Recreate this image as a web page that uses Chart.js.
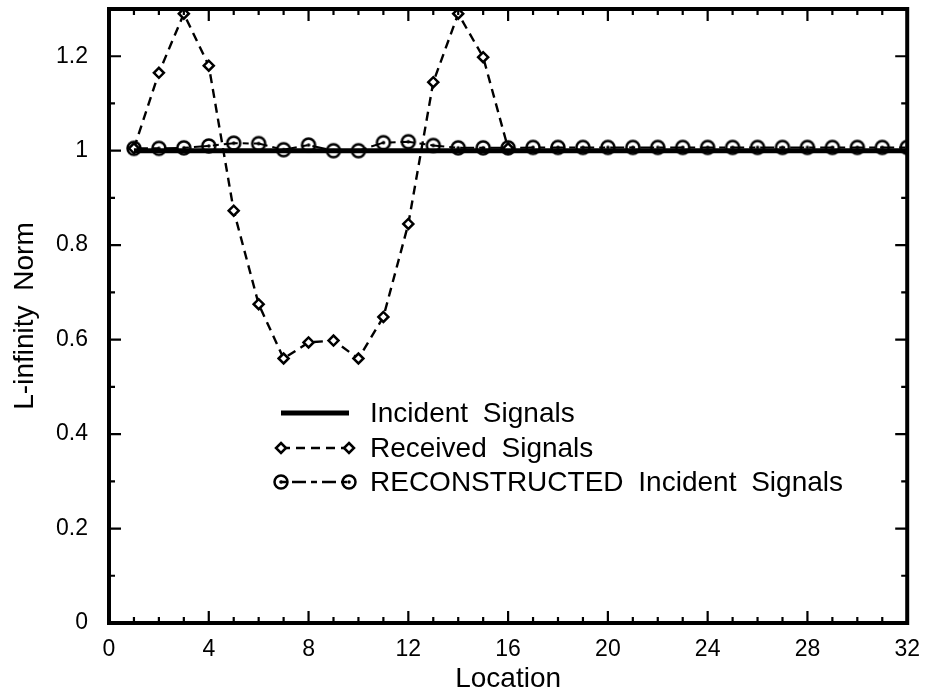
<!DOCTYPE html>
<html>
<head>
<meta charset="utf-8">
<script src="https://cdn.jsdelivr.net/npm/chart.js@4.4.1/dist/chart.umd.min.js"></script>
<style>
  html, body { margin: 0; padding: 0; background: #fff; }
  #wrap { width: 933px; height: 694px; }
</style>
</head>
<body>
<div id="wrap"><canvas id="chart" width="933" height="694"></canvas></div>
<script>
// Data
const locations = [1, 2, 3, 4, 5, 6, 7, 8, 9, 10, 11, 12, 13, 14, 15, 16,
                   17, 18, 19, 20, 21, 22, 23, 24, 25, 26, 27, 28, 29, 30, 31, 32];
const incident = [1, 1, 1, 1, 1, 1, 1, 1, 1, 1, 1, 1, 1, 1, 1, 1,
                  1, 1, 1, 1, 1, 1, 1, 1, 1, 1, 1, 1, 1, 1, 1, 1];
const receivedLocations = [1, 2, 3, 4, 5, 6, 7, 8, 9, 10, 11, 12, 13, 14, 15, 16];
const received = [1.005, 1.165, 1.29, 1.18, 0.873, 0.675, 0.56, 0.594, 0.598, 0.56, 0.648, 0.845, 1.145, 1.29, 1.198, 1.005];
const reconstructed = [1.005, 1.005, 1.006, 1.01, 1.016, 1.015, 1.002, 1.012, 1.0, 1.0, 1.017, 1.019, 1.011, 1.006, 1.006, 1.006,
                       1.007, 1.007, 1.007, 1.007, 1.007, 1.007, 1.007, 1.007, 1.007, 1.007, 1.007, 1.007, 1.007, 1.007, 1.007, 1.007];
const xTicks = [0, 4, 8, 12, 16, 20, 24, 28, 32];
const yTicks = [0, 0.2, 0.4, 0.6, 0.8, 1, 1.2];
const yTickLabels = ['0', '0.2', '0.4', '0.6', '0.8', '1', '1.2'];
const legendLabels = ['Incident Signals', 'Received Signals', 'RECONSTRUCTED Incident Signals'];

const FONT = "'Liberation Sans', Arial, Helvetica, sans-serif";

// circle with a dot in the middle, used as point style
function drawCircleMarker(g, x, y) {
    g.save();
    g.setLineDash([]);
    g.lineWidth = 2.5;
    g.strokeStyle = '#000';
    g.beginPath();
    g.arc(x, y, 6.5, 0, Math.PI * 2);
    g.stroke();
    g.fillStyle = '#000';
    g.beginPath();
    g.arc(x, y, 1.8, 0, Math.PI * 2);
    g.fill();
    g.restore();
}
function drawDiamondMarker(g, x, y) {
    g.save();
    g.setLineDash([]);
    g.lineWidth = 2.5;
    g.strokeStyle = '#000';
    g.fillStyle = '#fff';
    g.beginPath();
    g.moveTo(x, y - 5);
    g.lineTo(x + 5, y);
    g.lineTo(x, y + 5);
    g.lineTo(x - 5, y);
    g.closePath();
    g.fill();
    g.stroke();
    g.restore();
}
const circleMarker = document.createElement('canvas');
circleMarker.width = 20;
circleMarker.height = 20;
drawCircleMarker(circleMarker.getContext('2d'), 10, 10);

function toPoints(xs, ys) {
    return xs.map((x, i) => ({ x: x, y: ys[i] }));
}

// frame, inward ticks on all four sides, and the legend box
const framePlugin = {
    id: 'frame',
    beforeDraw(chart) {
        chart.ctx.wordSpacing = '7px';
    },
    afterDatasetsDraw(chart) {
        const ctx = chart.ctx;
        const { left, right, top, bottom } = chart.chartArea;
        const xs = chart.scales.x, ys = chart.scales.y;
        ctx.save();
        ctx.strokeStyle = '#000';
        ctx.setLineDash([]);
        ctx.lineWidth = 2.2;
        ctx.beginPath();
        for (let v = 0; v <= 32; v++) {
            const px = xs.getPixelForValue(v);
            const len = v % 4 === 0 ? 12 : 6;
            ctx.moveTo(px, bottom); ctx.lineTo(px, bottom - len);
            ctx.moveTo(px, top); ctx.lineTo(px, top + len);
        }
        for (let k = 0; k <= 13; k++) {
            const py = ys.getPixelForValue(k / 10);
            const len = k % 2 === 0 ? 12 : 6;
            ctx.moveTo(left, py); ctx.lineTo(left + len, py);
            ctx.moveTo(right, py); ctx.lineTo(right - len, py);
        }
        ctx.stroke();
        ctx.lineWidth = 4;
        ctx.strokeRect(left, top, right - left, bottom - top);

        // legend
        const x0 = 281, x1 = 349, tx = 370;
        const rows = [413, 448, 482];
        ctx.lineWidth = 5;
        ctx.beginPath();
        ctx.moveTo(x0, rows[0]); ctx.lineTo(x1, rows[0]);
        ctx.stroke();
        ctx.lineWidth = 2.4;
        ctx.setLineDash([9, 6]);
        ctx.beginPath();
        ctx.moveTo(x0, rows[1]); ctx.lineTo(x1, rows[1]);
        ctx.stroke();
        ctx.setLineDash([6, 5, 14, 5]);
        ctx.beginPath();
        ctx.moveTo(x0, rows[2]); ctx.lineTo(x1, rows[2]);
        ctx.stroke();
        ctx.setLineDash([]);
        drawDiamondMarker(ctx, x0, rows[1]);
        drawDiamondMarker(ctx, x1, rows[1]);
        drawCircleMarker(ctx, x0, rows[2]);
        drawCircleMarker(ctx, x1, rows[2]);
        ctx.fillStyle = '#000';
        ctx.font = '28px ' + FONT;
        ctx.textAlign = 'left';
        ctx.textBaseline = 'middle';
        legendLabels.forEach((t, i) => ctx.fillText(t, tx, rows[i] + 1));
        ctx.restore();
    }
};

new Chart(document.getElementById('chart'), {
    type: 'line',
    data: {
        datasets: [
            {
                label: legendLabels[0],
                data: toPoints(locations, incident),
                borderColor: '#000',
                borderWidth: 5,
                pointRadius: 0,
                order: 0
            },
            {
                label: legendLabels[1],
                data: toPoints(receivedLocations, received),
                borderColor: '#000',
                borderWidth: 2.4,
                borderDash: [9, 6],
                pointStyle: 'rectRot',
                pointRadius: 5,
                pointBorderWidth: 2.5,
                pointBackgroundColor: '#fff',
                pointBorderColor: '#000',
                clip: 0,
                order: 1
            },
            {
                label: legendLabels[2],
                data: toPoints(locations, reconstructed),
                borderColor: '#000',
                borderWidth: 2,
                borderDash: [14, 5, 6, 5],
                pointStyle: circleMarker,
                pointRadius: 7,
                order: 2
            }
        ]
    },
    options: {
        responsive: false,
        animation: false,
        devicePixelRatio: 1,
        layout: { padding: { left: 0, right: 16, top: 8, bottom: 1 } },
        plugins: {
            legend: { display: false },
            tooltip: { enabled: false }
        },
        scales: {
            x: {
                type: 'linear',
                min: 0,
                max: 32,
                afterBuildTicks: s => { s.ticks = xTicks.map(v => ({ value: v })); },
                afterFit: s => { s.height = 70; },
                grid: { display: false, drawTicks: false },
                border: { display: false },
                ticks: {
                    color: '#000',
                    padding: 13,
                    maxRotation: 0,
                    font: { family: FONT, size: 23 },
                    callback: v => String(v)
                },
                title: {
                    display: true,
                    text: 'Location',
                    color: '#000',
                    font: { family: FONT, size: 28, lineHeight: 1 },
                    padding: { top: 0, bottom: 0 }
                }
            },
            y: {
                type: 'linear',
                min: 0,
                max: 1.3,
                afterBuildTicks: s => { s.ticks = yTicks.map(v => ({ value: v })); },
                afterFit: s => { s.width = 109; s.paddingTop = 0; s.paddingBottom = 0; },
                grid: { display: false, drawTicks: false },
                border: { display: false },
                ticks: {
                    color: '#000',
                    padding: 21,
                    font: { family: FONT, size: 23 },
                    callback: (v) => yTickLabels[yTicks.indexOf(v)]
                },
                title: {
                    display: true,
                    text: 'L-infinity Norm',
                    color: '#000',
                    font: { family: FONT, size: 28, lineHeight: 1 },
                    padding: { top: 11, bottom: 0 }
                }
            }
        }
    },
    plugins: [framePlugin]
});
</script>
</body>
</html>
